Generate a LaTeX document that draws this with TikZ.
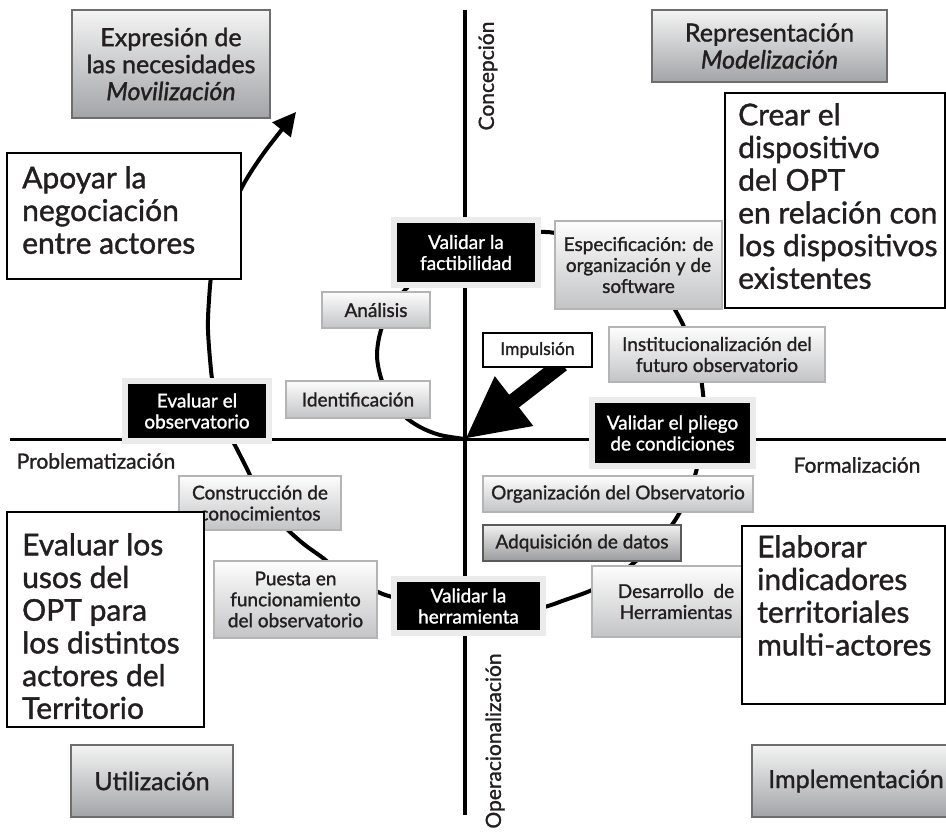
\documentclass[tikz,border=0pt]{standalone}
\usepackage{fontspec}
\setmainfont{Lato}[FakeBold=1.3]
\usetikzlibrary{arrows.meta}
\definecolor{txt}{HTML}{231F20}
\definecolor{cornertop}{HTML}{F4F4F4}
\definecolor{cornerbot}{HTML}{A2A4A7}
\definecolor{cornerline}{HTML}{6E6E6E}
\definecolor{graytop}{HTML}{FDFDFD}
\definecolor{graybot}{HTML}{C3C4C6}
\definecolor{grayline}{HTML}{B4B4B4}
\definecolor{darktop}{HTML}{F0F0F0}
\definecolor{darkbot}{HTML}{9A9B9E}
\definecolor{darkline}{HTML}{5A5A5A}
\definecolor{halo}{HTML}{EBEBEB}
\begin{document}
\begin{tikzpicture}[x=1pt,y=-1pt,
  cornerbox/.style={draw=cornerline,line width=2pt,top color=cornertop,bottom color=cornerbot,align=center,inner sep=0pt,text=txt,font=\fontsize{25}{27}\selectfont},
  graybox/.style={draw=grayline,line width=1.8pt,top color=graytop,bottom color=graybot,align=center,inner sep=0pt,text=txt,font=\fontsize{19}{21}\selectfont},
  darkbox/.style={graybox,draw=darkline,top color=darktop,bottom color=darkbot},
  blackbox/.style={fill=black,draw=halo,line width=6pt,text=white,align=center,inner sep=0pt,font=\fontsize{19}{21}\selectfont},
  bigframe/.style={draw=black,line width=1.6pt,fill=white,inner sep=0pt},
  bigtext/.style={anchor=north west,inner sep=0pt,align=left,text=txt,font=\fontsize{30}{32.7}\selectfont},
  whitebox/.style={draw=black,line width=1.4pt,fill=white,inner sep=0pt,text=txt,font=\fontsize{17.5}{20}\selectfont},
  axisline/.style={line width=3.5pt},
  axislabel/.style={inner sep=0pt,text=txt,font=\fontsize{21}{24}\selectfont},
  spiral/.style={line width=4pt,-{Triangle[length=23pt 0,width=23pt 0]}},
  impulse/.style={line width=16pt,-{Triangle[length=62pt 0,width=58pt 0]}}
]
\useasboundingbox (0,0) rectangle (946,831);
\clip (0,0) rectangle (946,831);
\fill[white] (0,0) rectangle (946,831);

% axes
\coordinate (vtop) at (465,10);
\coordinate (vbot) at (465,815);
\coordinate (hleft) at (10,439.5);
\coordinate (hright) at (946,439.5);
\coordinate (o) at (465,439);
\draw[axisline] (vtop) -- (vbot);
\draw[axisline] (hleft) -- (hright);

% axis labels
\node[axislabel,rotate=90] (concep) at (488,76) {Concepción};
\node[axislabel,rotate=90] (operac) at (495,741) {Operacionalización};
\node[axislabel] (problem) at (96,461) {Problematización};
\node[axislabel] (formal) at (857,465) {Formalización};

% spiral
\draw[spiral] plot[smooth,tension=0.55] coordinates {
 (465,439) (440,435) (420,427) (403,415) (390,398) (381,378) (377,355) (381,330)
 (392,308) (405,290) (430,265) (470,245) (510,235) (540,232) (560,234) (600,245)
 (640,268) (665,295) (678,315) (690,340) (698,362) (702,385) (704,410) (702,440)
 (697,468) (690,490) (680,512) (668,530) (650,548) (630,566) (610,579) (592,590)
 (565,600) (540,608) (500,613) (460,612) (420,605) (392,597) (378,592) (355,580)
 (335,568) (323,558) (305,545) (290,532) (270,512) (258,493) (249,473) (240,455)
 (230,435) (220,410) (214,390) (211,370) (208,330) (209,300) (212,270) (220,240)
 (232,208) (246,180) (266,150) (296,112)};

% impulse arrow
\coordinate (impfoot) at (562,364);
\draw[impulse] (impfoot) -- (o);
\node[whitebox,minimum width=109,minimum height=34] (impuls) at (537.5,350) {Impulsión};

% gray boxes
\node[graybox,minimum width=108,minimum height=36] (anal) at (376,310) {Análisis};
\node[graybox,minimum width=144,minimum height=37] (ident) at (358,399.5) {Identificación};
\node[graybox,minimum width=167,minimum height=88] (espec) at (638.5,265) {Especificación: de\\organización y de\\software};
\node[graybox,minimum width=216,minimum height=55] (instit) at (717,354.5) {Institucionalización del\\futuro observatorio};
\node[graybox,minimum width=270,minimum height=36] (organ) at (618,494) {Organización del Observatorio};
\node[darkbox,minimum width=198,minimum height=36] (adqui) at (582,543) {Adquisición de datos};
\node[graybox,minimum width=168,minimum height=71] (desarr) at (676,601.5) {Desarrollo\ \ de\\Herramientas};
\node[graybox,minimum width=162,minimum height=54] (constr) at (260,503) {Construcción de\\conocimientos};
\node[graybox,minimum width=163,minimum height=77] (puesta) at (295.5,599.5) {Puesta en\\funcionamiento\\del observatorio};

% black boxes
\node[blackbox,minimum width=144,minimum height=65] (factib) at (466,252.5) {Validar la\\factibilidad};
\node[blackbox,minimum width=144,minimum height=60] (evalobs) at (197,411) {Evaluar el\\observatorio};
\node[blackbox,minimum width=161,minimum height=66] (pliego) at (672.5,433) {Validar el pliego\\de condiciones};
\node[blackbox,minimum width=149,minimum height=54] (herram) at (468.5,606) {Validar la\\herramienta};

% big white boxes
\node[bigframe,minimum width=234,minimum height=126] (apoyar) at (124,216) {};
\node[bigtext] (apoyart) at (22,166) {Apoyar la\\negociación\\entre actores};
\node[bigframe,minimum width=220,minimum height=215] (crear) at (835,200.5) {};
\node[bigtext] (creart) at (738,103) {Crear el\\dispositivo\\del OPT\\en relación con\\los dispositivos\\existentes};
\node[bigframe,minimum width=197,minimum height=215] (evalusos) at (105.5,619.5) {};
\node[bigtext] (evalusost) at (22,533) {Evaluar los\\usos del\\OPT para\\los distintos\\actores del\\Territorio};
\node[bigframe,minimum width=203,minimum height=178] (elab) at (843.5,615) {};
\node[bigtext] (elabt) at (757,535) {Elaborar\\indicadores\\territoriales\\multi-actores};

% corner boxes
\node[cornerbox,minimum width=198,minimum height=108] (expr) at (171,64) {Expresión de\\las necesidades\\\textit{Movilización}};
\node[cornerbox,minimum width=235,minimum height=72] (repr) at (769.5,46) {Representación\\\textit{Modelización}};
\node[cornerbox,minimum width=162,minimum height=72] (util) at (152,781) {Utilización};
\node[cornerbox,minimum width=208,minimum height=72] (impl) at (856,781) {Implementación};
\end{tikzpicture}
\end{document}
